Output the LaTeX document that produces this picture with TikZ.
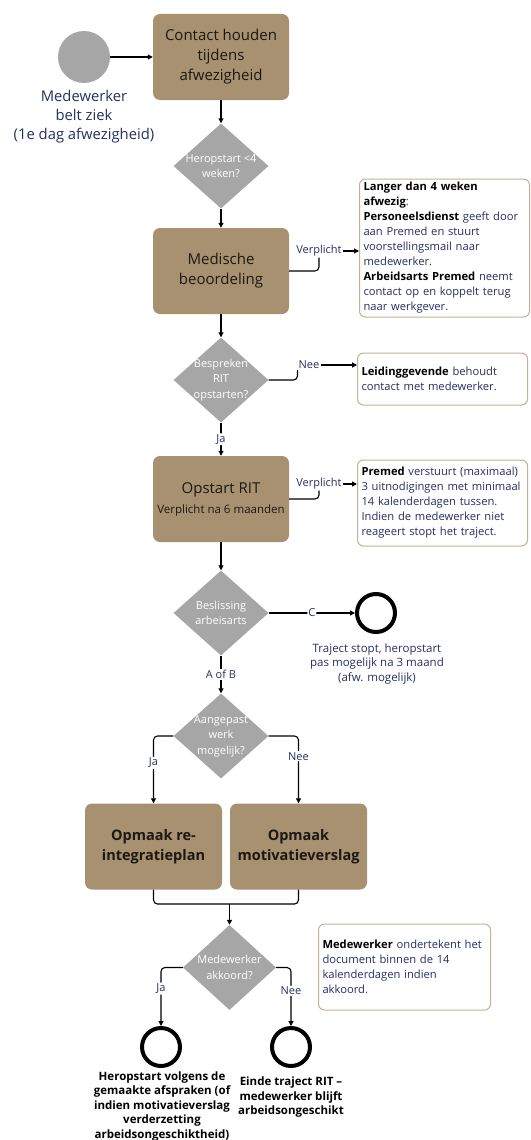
\documentclass[tikz,border=0pt]{standalone}
\usepackage{fontspec}
\setmainfont{Open Sans}
\usetikzlibrary{positioning,arrows.meta,shapes.geometric}
\definecolor{bruin}{RGB}{168,145,112}
\definecolor{grijs}{RGB}{166,166,166}
\definecolor{rand}{RGB}{196,176,146}
\definecolor{navy}{RGB}{38,48,96}
\definecolor{tekst}{RGB}{28,24,20}
\newcommand{\stapfont}{\fontsize{15}{20}\selectfont}
\newcommand{\subfont}{\fontsize{11.5}{15}\selectfont}
\newcommand{\ruitfont}{\fontsize{11}{15.5}\selectfont}
\newcommand{\notafont}{\fontsize{11.2}{15}\selectfont}
\newcommand{\lijnfont}{\fontsize{11}{13}\selectfont}
\newcommand{\startfont}{\fontsize{14.8}{19}\selectfont}
\newcommand{\eindfont}{\fontsize{11.5}{14.5}\selectfont}
\newcommand{\zw}[1]{{\bfseries\color{black}#1}}
\newcommand{\rl}[1]{\makebox[0pt]{#1}}

\begin{document}
\begin{tikzpicture}[x=1pt,y=-1pt,
  stap/.style={rectangle,rounded corners=7pt,fill=bruin,text=tekst,minimum width=136pt,minimum height=86pt,align=center,font=\stapfont,inner sep=2pt},
  ruit/.style={diamond,fill=grijs,text=white,minimum width=95pt,minimum height=85pt,inner sep=0pt,align=center,font=\ruitfont},
  nota/.style={rectangle,rounded corners=6pt,draw=rand,line width=1pt,fill=white,text=navy,text width=162pt,align=left,inner xsep=4pt,inner ysep=2pt,font=\notafont},
  eind/.style={circle,draw=black,line width=4pt,minimum size=38pt,inner sep=0pt},
  lab/.style={text=navy,font=\lijnfont,inner sep=1pt,fill=white},
  pijl/.style={-{Triangle[length=5pt,width=5pt]},line width=1.1pt,rounded corners=4pt},
  lijn/.style={line width=1.1pt,rounded corners=4pt}]
\useasboundingbox (0,0) rectangle (530,1140);
% start
\node[circle,fill=grijs,minimum size=52pt,inner sep=0pt] (ziek) at (84,57) {};
\node[text=navy,font=\startfont,align=center] (ziektxt) at (84,117) {Medewerker\\belt ziek\\(1e dag afwezigheid)};
\node[stap] (contact) at (221,57) {Contact houden\\tijdens\\afwezigheid};
\draw[pijl] (ziek) -- (contact);
% eerste 4 weken
\node[ruit] (herop) at (221,166) {\rl{Heropstart <4}\\\rl{weken?}};
\draw[pijl] (contact) -- (herop);
\node[stap] (medisch) at (221,271) {Medische\\beoordeling};
\draw[pijl] (herop) -- (medisch);
\node[nota,anchor=west,minimum height=138pt] (langer) at (359,248) {\zw{Langer dan 4 weken}\\
  \zw{afwezig}:\\
  \zw{Personeelsdienst} geeft door\\
  aan Premed en stuurt\\
  voorstellingsmail naar\\
  medewerker.\\
  \zw{Arbeidsarts Premed} neemt\\
  contact op en koppelt terug\\
  naar werkgever.};
\node[lab] (verpl1) at (319,251) {Verplicht};
\draw[lijn] (medisch.east) -| (verpl1.south);
\draw[pijl] (verpl1.east) -- (verpl1.east -| langer.west);
% RIT bespreken
\node[ruit] (bespreek) at (221,380) {\rl{Bespreken}\\\rl{RIT}\\\rl{opstarten?}};
\draw[pijl] (medisch) -- (bespreek);
\node[nota,anchor=west,minimum height=52pt] (leiding) at (357,379) {\zw{Leidinggevende} behoudt\\contact met medewerker.};
\node[lab] (nee1) at (309,365) {Nee};
\draw[lijn] (bespreek.east) -| (nee1.south west);
\draw[pijl] (nee1.east) -- (nee1.east -| leiding.west);
\node[stap] (opstart) at (221,499) {Opstart RIT\\{\subfont Verplicht na 6 maanden}};
\draw[pijl] (bespreek) -- node[lab] (ja1) {Ja} (opstart);
\node[nota,anchor=west,minimum height=86pt] (premed) at (357,503) {\zw{Premed} verstuurt (maximaal)\\
  3 uitnodigingen met minimaal\\
  14 kalenderdagen tussen.\\
  Indien de medewerker niet\\
  reageert stopt het traject.};
\node[lab] (verpl2) at (319,484) {Verplicht};
\draw[lijn] (opstart.east) -| (verpl2.south);
\draw[pijl] (verpl2.east) -- (verpl2.east -| premed.west);
% beslissing arbeidsarts
\node[ruit] (beslis) at (221,613) {\rl{Beslissing}\\\rl{arbeisarts}};
\draw[pijl] (opstart) -- (beslis);
\node[eind] (stop) at (376,613) {};
\draw[pijl] (beslis.east) -- node[lab] (c) {C} (stop.west);
\node[text=navy,font=\eindfont,align=center] (stoptxt) at (377,664) {Traject stopt, heropstart\\pas mogelijk na 3 maand\\(afw. mogelijk)};
\node[ruit] (aangepast) at (221,736) {\rl{Aangepast}\\\rl{werk}\\\rl{mogelijk?}};
\draw[pijl] (beslis) -- node[lab] (aofb) {A of B} (aangepast);
% opmaak documenten
\node[stap,minimum width=137pt,font=\fontsize{14.5}{20}\selectfont\bfseries] (opmaakre) at (153.5,846.5) {Opmaak re-\\integratieplan};
\node[stap,minimum width=137pt,font=\fontsize{14.5}{20}\selectfont\bfseries] (opmaakmot) at (298.5,846.5) {Opmaak\\motivatieverslag};
\draw[pijl] (aangepast.west) -| node[lab,pos=0.7] (ja2) {Ja} (opmaakre.north);
\draw[pijl] (aangepast.east) -| node[lab,pos=0.65] (nee2) {Nee} (opmaakmot.north);
\coordinate (samen) at (229.5,904);
\node[ruit,minimum width=93pt] (akkoord) at (229.5,967.5) {\rl{Medewerker}\\\rl{akkoord?}};
\draw[lijn] (opmaakre.south) |- (samen) -| (opmaakmot.south);
\draw[pijl] (samen) -- (akkoord.north);
\node[nota,anchor=west,text width=164pt,minimum height=86pt] (teken) at (318,967) {\zw{Medewerker} ondertekent het\\
  document binnen de 14\\
  kalenderdagen indien\\
  akkoord.};
% einde
\node[eind] (eindA) at (161,1047) {};
\node[eind] (eindB) at (291,1047) {};
\draw[pijl] (akkoord.west) -| node[lab,pos=0.68] (ja3) {Ja} (eindA.north);
\draw[pijl] (akkoord.east) -| node[lab,pos=0.7] (nee3) {Nee} (eindB.north);
\node[font=\eindfont\bfseries,align=center] (eindAtxt) at (162,1106) {Heropstart volgens de\\gemaakte afspraken (of\\indien motivatieverslag\\verderzetting\\arbeidsongeschiktheid)};
\node[font=\eindfont\bfseries,align=center] (eindBtxt) at (291,1097) {Einde traject RIT --\\medewerker blijft\\arbeidsongeschikt};
\end{tikzpicture}
\end{document}
